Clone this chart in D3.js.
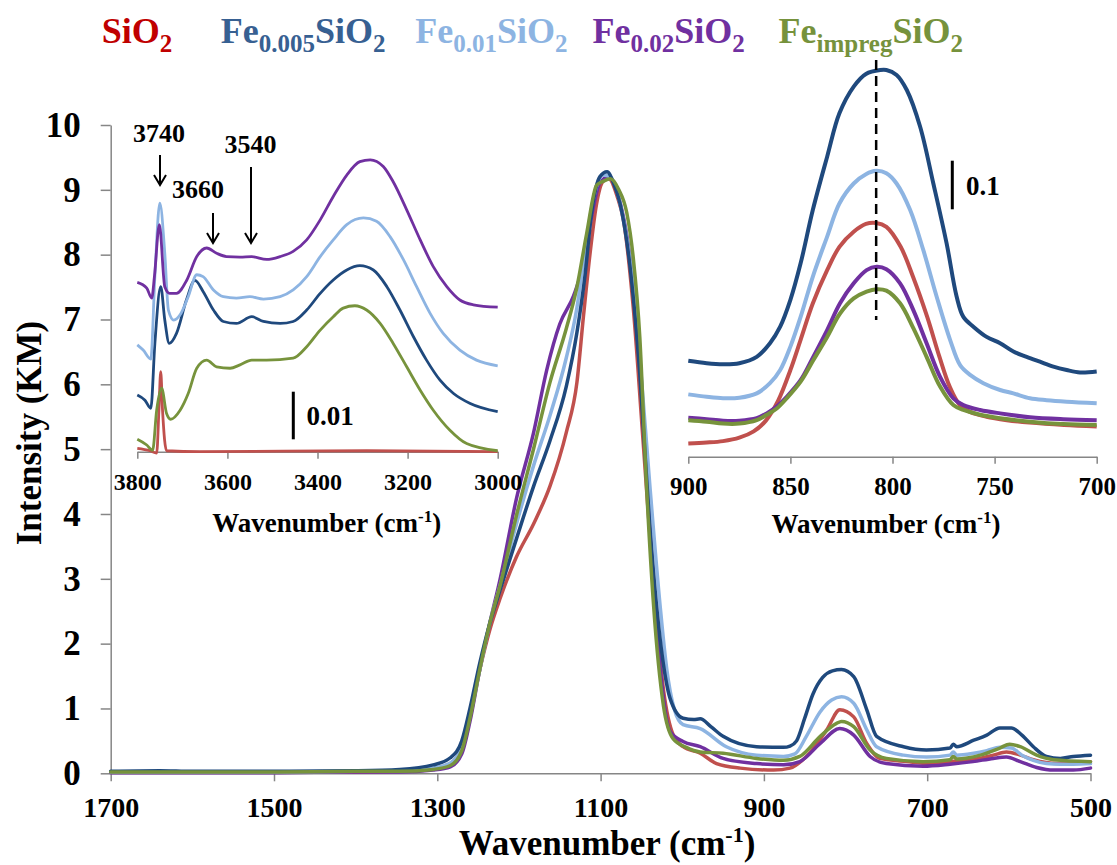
<!DOCTYPE html>
<html><head><meta charset="utf-8">
<script src="https://cdn.jsdelivr.net/npm/d3@7"></script>
<style>
body{margin:0;background:#fff}
svg{display:block}
</style>
</head><body>
<svg id="c" width="1117" height="865"></svg>
<script>
// ---------- DATA ----------
const seriesNames = ["SiO2","Fe0.005SiO2","Fe0.01SiO2","Fe0.02SiO2","FeimpregSiO2"];
const lineColors  = ["#C0504D","#1F497D","#8DB4E2","#7030A0","#77933C"];
const legendColors= ["#C00000","#376092","#8DB4E2","#7030A0","#76923C"];

const mainXTicks = [1700,1500,1300,1100,900,700,500];
const mainYTicks = [0,1,2,3,4,5,6,7,8,9,10];
const insetLTicks = [3800,3600,3400,3200,3000];
const insetRTicks = [900,850,800,750,700];

// main spectra [wavenumber, KM]
const mainSiO2 = [[1700,0.02],[1600,0.02],[1500,0.02],[1400,0.02],[1346,0.03],[1305,0.07],[1284,0.15],[1270,0.4],[1260,0.9],[1248,1.6],[1236,2.2],[1223,2.7],[1203,3.34],[1182,3.85],[1162,4.43],[1142,5.26],[1129,6.03],[1121,7.05],[1113,8.01],[1105,8.78],[1097,9.13],[1090,9.17],[1080,8.91],[1072,8.53],[1060,7.18],[1048,5.13],[1035,2.89],[1023,1.29],[1011,0.59],[999,0.41],[978,0.31],[958,0.15],[929,0.08],[888,0.05],[868,0.08],[848,0.26],[823,0.67],[807,0.98],[790,0.87],[774,0.46],[758,0.23],[725,0.18],[697,0.15],[672,0.18],[644,0.21],[619,0.28],[603,0.33],[586,0.28],[570,0.21],[541,0.15],[500,0.18]];
const mainFe005 = [[1700,0.03],[1640,0.04],[1600,0.03],[1500,0.03],[1400,0.04],[1346,0.06],[1305,0.13],[1284,0.24],[1270,0.5],[1260,1.0],[1248,1.7],[1236,2.3],[1223,2.83],[1203,3.62],[1182,4.43],[1162,5.13],[1142,5.97],[1129,6.8],[1119,7.69],[1111,8.65],[1101,9.2],[1092,9.28],[1084,9.1],[1076,8.78],[1064,7.82],[1052,6.16],[1040,3.85],[1027,2.06],[1015,1.16],[999,0.85],[986,0.83],[978,0.84],[965,0.72],[950,0.57],[909,0.41],[876,0.4],[868,0.42],[860,0.5],[850,0.85],[840,1.22],[828,1.48],[816,1.58],[805,1.6],[790,1.49],[774,0.98],[762,0.57],[729,0.41],[701,0.36],[672,0.39],[668,0.45],[664,0.41],[643,0.51],[627,0.59],[611,0.7],[597,0.7],[584,0.59],[570,0.41],[554,0.26],[537,0.23],[521,0.26],[500,0.28]];
const mainFe01 = [[1700,0.02],[1500,0.02],[1400,0.03],[1346,0.04],[1305,0.08],[1284,0.16],[1270,0.4],[1260,0.9],[1248,1.6],[1236,2.3],[1223,2.9],[1203,3.85],[1182,4.75],[1162,5.52],[1142,6.41],[1129,7.18],[1121,7.89],[1109,8.85],[1097,9.23],[1088,9.2],[1076,8.78],[1060,7.5],[1052,6.41],[1040,4.49],[1027,2.57],[1019,1.61],[1010,1.0],[999,0.75],[978,0.69],[946,0.41],[909,0.28],[876,0.26],[862,0.3],[848,0.57],[831,0.95],[817,1.13],[805,1.18],[790,1.08],[774,0.67],[762,0.41],[729,0.28],[701,0.25],[672,0.28],[668,0.33],[664,0.28],[643,0.31],[627,0.35],[611,0.4],[597,0.39],[584,0.28],[570,0.2],[554,0.15],[537,0.14],[521,0.14],[500,0.15]];
const mainFe02 = [[1700,0.01],[1500,0.01],[1400,0.02],[1346,0.02],[1305,0.05],[1284,0.1],[1270,0.3],[1260,0.8],[1248,1.6],[1236,2.3],[1223,3.0],[1203,4.24],[1182,5.26],[1166,6.22],[1150,6.93],[1133,7.37],[1123,7.76],[1113,8.46],[1101,9.1],[1090,9.2],[1080,8.97],[1064,7.95],[1052,6.41],[1040,3.85],[1027,1.61],[1015,0.65],[999,0.49],[978,0.41],[950,0.23],[909,0.15],[876,0.13],[856,0.18],[831,0.46],[807,0.69],[790,0.59],[770,0.26],[750,0.15],[705,0.11],[672,0.14],[644,0.18],[619,0.23],[603,0.25],[586,0.18],[566,0.09],[545,0.05],[521,0.05],[500,0.08]];
const mainFeImp = [[1700,0.02],[1500,0.02],[1400,0.03],[1346,0.03],[1305,0.06],[1284,0.12],[1270,0.35],[1260,0.85],[1248,1.6],[1236,2.3],[1223,2.9],[1203,3.98],[1182,5.01],[1162,6.03],[1142,6.86],[1129,7.5],[1117,8.33],[1105,9.07],[1097,9.13],[1088,9.17],[1078,9.01],[1068,8.65],[1060,7.95],[1052,6.73],[1044,4.49],[1035,2.57],[1023,1.04],[1011,0.53],[995,0.4],[978,0.33],[950,0.31],[909,0.23],[876,0.2],[856,0.26],[831,0.57],[811,0.77],[805,0.8],[790,0.72],[770,0.36],[750,0.23],[705,0.18],[672,0.21],[668,0.26],[664,0.22],[635,0.28],[611,0.39],[599,0.45],[586,0.41],[566,0.28],[545,0.21],[500,0.18]];

// OH-region inset (offset spectra)
const ohSiO2 = [[3800,0.0007],[3772,0.0002],[3757,-0.0003],[3752,0.0087],[3748,0.0168],[3744,0.0087],[3735,0.0002],[3661,0.0],[3291,0.0002],[3000,0.0]];
const ohFe005 = [[3800,0.0119],[3783,0.0108],[3770,0.0091],[3761,0.0227],[3748,0.0346],[3739,0.0276],[3729,0.0227],[3713,0.0248],[3691,0.0318],[3672,0.0359],[3654,0.0336],[3631,0.0297],[3609,0.0273],[3580,0.0269],[3546,0.0283],[3520,0.0273],[3483,0.0269],[3454,0.0273],[3424,0.0297],[3394,0.0332],[3365,0.036],[3335,0.0381],[3306,0.039],[3276,0.0381],[3246,0.0346],[3217,0.0297],[3187,0.0241],[3158,0.0192],[3128,0.015],[3098,0.0122],[3061,0.0101],[3000,0.0084]];
const ohFe01 = [[3800,0.0224],[3787,0.0213],[3770,0.0194],[3761,0.0367],[3750,0.0521],[3739,0.0416],[3731,0.0297],[3719,0.0276],[3705,0.0287],[3687,0.0325],[3668,0.0371],[3654,0.0367],[3631,0.0339],[3609,0.0325],[3580,0.0322],[3550,0.0325],[3520,0.032],[3483,0.0325],[3454,0.0339],[3424,0.0367],[3394,0.0409],[3365,0.0444],[3335,0.0476],[3298,0.049],[3269,0.0483],[3239,0.0451],[3209,0.0402],[3180,0.0346],[3150,0.029],[3121,0.0248],[3084,0.0213],[3047,0.0192],[3000,0.018]];
const ohFe02 = [[3800,0.0355],[3779,0.0343],[3768,0.0322],[3762,0.0367],[3751,0.0476],[3739,0.0346],[3728,0.0332],[3713,0.0332],[3690,0.036],[3668,0.0409],[3646,0.0427],[3624,0.0416],[3602,0.0409],[3572,0.0408],[3546,0.0409],[3513,0.0403],[3483,0.0409],[3454,0.042],[3424,0.0444],[3394,0.0486],[3365,0.0535],[3335,0.058],[3306,0.0608],[3283,0.0612],[3254,0.0598],[3232,0.0566],[3202,0.0507],[3172,0.0444],[3143,0.0388],[3113,0.0346],[3084,0.0318],[3054,0.0308],[3000,0.0303]];
const ohFeImp = [[3800,0.0026],[3779,0.0014],[3766,0.0003],[3757,0.0087],[3746,0.0133],[3735,0.008],[3726,0.0068],[3705,0.0087],[3687,0.0122],[3668,0.0175],[3646,0.0192],[3624,0.0178],[3594,0.0175],[3572,0.0182],[3546,0.0192],[3513,0.0192],[3454,0.0196],[3424,0.022],[3394,0.0255],[3365,0.0283],[3343,0.0301],[3317,0.0306],[3291,0.0297],[3261,0.0269],[3232,0.0227],[3202,0.0178],[3172,0.0129],[3143,0.0087],[3106,0.0045],[3069,0.0017],[3000,0.0002]];

// 800 cm-1 band inset (offset spectra)
const bandSiO2 = [[900,0.027],[891,0.029],[883,0.032],[875,0.039],[868,0.052],[862,0.074],[856,0.115],[850,0.178],[845,0.24],[839,0.315],[832,0.383],[826,0.431],[819,0.462],[813,0.478],[808,0.48],[803,0.472],[796,0.431],[790,0.37],[783,0.287],[777,0.205],[772,0.144],[767,0.106],[762,0.092],[754,0.082],[744,0.075],[733,0.07],[716,0.065],[700,0.062]];
const bandFe005 = [[900,0.197],[891,0.192],[883,0.19],[875,0.192],[866.5,0.205],[860,0.233],[855,0.267],[850,0.322],[845,0.397],[839,0.507],[832,0.616],[826,0.705],[819,0.76],[813,0.786],[806,0.794],[803,0.794],[798,0.784],[793,0.753],[786.5,0.678],[780,0.561],[773.5,0.438],[768.6,0.329],[765.3,0.287],[760.4,0.267],[753.9,0.246],[747.3,0.233],[740.8,0.216],[734.3,0.205],[727.8,0.195],[721.2,0.185],[714.7,0.178],[708.2,0.173],[700,0.175]];
const bandFe01 = [[900,0.128],[891,0.123],[883,0.12],[875,0.121],[866.5,0.13],[860,0.151],[855,0.178],[850,0.226],[845,0.287],[839,0.37],[832,0.452],[826,0.52],[819,0.561],[813,0.58],[808,0.587],[803,0.582],[798,0.561],[791.4,0.507],[784.9,0.424],[778.4,0.329],[771.8,0.24],[766.9,0.188],[762,0.168],[755.5,0.151],[747.3,0.137],[740.8,0.13],[732.7,0.12],[724.5,0.116],[714.7,0.113],[700,0.11]];
const bandFe02 = [[900,0.08],[891,0.077],[883,0.074],[875,0.074],[866.5,0.079],[861.6,0.089],[856.7,0.103],[851.8,0.123],[845,0.157],[838.8,0.205],[832,0.26],[825.7,0.315],[819,0.356],[812.7,0.383],[807.8,0.39],[803,0.385],[796.3,0.356],[789.8,0.301],[783.3,0.233],[776.7,0.164],[770.2,0.12],[765.3,0.106],[757.1,0.096],[747.3,0.089],[732.7,0.081],[716.4,0.077],[700,0.075]];
const bandFeImp = [[900,0.075],[891,0.072],[883,0.068],[875,0.068],[866.5,0.075],[861.6,0.086],[856.7,0.099],[851.8,0.12],[845,0.154],[838.8,0.198],[832,0.246],[825.7,0.294],[819,0.325],[812.7,0.339],[807.8,0.344],[803,0.341],[796.3,0.315],[789.8,0.264],[783.3,0.205],[776.7,0.144],[770.2,0.106],[765.3,0.096],[757.1,0.086],[747.3,0.079],[732.7,0.072],[716.4,0.067],[700,0.065]];
const bandCenter = 808;

const mainSeries = [mainSiO2, mainFe005, mainFe01, mainFe02, mainFeImp];
const ohSeries   = [ohSiO2, ohFe005, ohFe01, ohFe02, ohFeImp];
const bandSeries = [bandSiO2, bandFe005, bandFe01, bandFe02, bandFeImp];

// ---------- font selection (pick an installed serif if any) ----------
function pickFont(){
  const cands = ["Liberation Serif","DejaVu Serif","Tinos","Times New Roman","Noto Serif","FreeSerif","Nimbus Roman","Nimbus Roman No9 L","Times"];
  const c = document.createElement("canvas").getContext("2d");
  const s = "Wavenumber 0123456789 (KM)";
  const base = {};
  ["monospace","sans-serif"].forEach(b=>{ c.font = "bold 40px " + b; base[b] = c.measureText(s).width; });
  for (const f of cands){
    let found = false;
    ["monospace","sans-serif"].forEach(b=>{ c.font = `bold 40px "${f}", ${b}`; if (Math.abs(c.measureText(s).width - base[b]) > 0.5) found = true; });
    if (found) return `"${f}", serif`;
  }
  return '"Liberation Sans", Arial, sans-serif';
}
const FONT = pickFont();

// ---------- DRAW ----------
const svg = d3.select("#c");
const axisGray = "#868686";

function styleAxis(g, fs){
  g.attr("font-family", null).attr("font-size", null);
  g.selectAll(".domain").attr("stroke", axisGray).attr("stroke-width", 1.5);
  g.selectAll(".tick line").attr("stroke", axisGray).attr("stroke-width", 1.5);
  g.selectAll(".tick text").attr("fill","#000").style("font-size", fs+"px")
    .style("font-family", FONT).style("font-weight","bold");
}

// main scales
const xM = d3.scaleLinear().domain([1700,500]).range([110.7,1090.5]);
const yM = d3.scaleLinear().domain([0,10]).range([773.3,125]);

const gy = svg.append("g").attr("transform","translate(110.7,0)")
  .call(d3.axisLeft(yM).tickValues(mainYTicks).tickSize(10).tickSizeOuter(0).tickPadding(20));
styleAxis(gy, 35);
const gx = svg.append("g").attr("transform","translate(0,773.3)")
  .call(d3.axisBottom(xM).tickValues(mainXTicks).tickSize(8).tickSizeOuter(0).tickPadding(15.5).tickFormat(d3.format("d")));
styleAxis(gx, 28);

const lineM = d3.line().x(d=>xM(d[0])).y(d=>yM(d[1])).curve(d3.curveMonotoneX);
const order = [0,3,2,1,4];
order.forEach(i=>{
  svg.append("path").datum(mainSeries[i]).attr("d", lineM)
    .attr("fill","none").attr("stroke", lineColors[i]).attr("stroke-width",3.5)
    .attr("stroke-linejoin","round").attr("stroke-linecap","round");
});

function txt(sel){ return sel.style("font-family", FONT).style("font-weight","bold"); }

// main titles
const xt = txt(svg.append("text")).attr("x",607).attr("y",855).attr("text-anchor","middle").style("font-size","35px");
xt.append("tspan").text("Wavenumber (cm");
xt.append("tspan").attr("dy",-13).style("font-size","22px").text("-1");
xt.append("tspan").attr("dy",13).text(")");

txt(svg.append("text")).attr("transform","translate(41,433) rotate(-90)").attr("text-anchor","middle")
  .style("font-size","35px").text("Intensity (KM)");

// legend
const legendParts = [
  [["SiO",0],["2",1]],
  [["Fe",0],["0.005",1],["SiO",0],["2",1]],
  [["Fe",0],["0.01",1],["SiO",0],["2",1]],
  [["Fe",0],["0.02",1],["SiO",0],["2",1]],
  [["Fe",0],["impreg",1],["SiO",0],["2",1]]
];
const legendX = [101.7,220.7,415.2,592.6,778.5];
legendParts.forEach((parts,i)=>{
  const t = txt(svg.append("text")).attr("x",legendX[i]).attr("y",43.3).attr("fill",legendColors[i]).style("font-size","36px");
  let sub = 0;
  parts.forEach(([s,isSub])=>{
    const dy = (isSub?9:0) - (sub?9:0);
    t.append("tspan").attr("dy",dy).style("font-size", isSub?"25px":"36px").text(s);
    sub = isSub;
  });
});

// ---------- left inset (OH region) ----------
const xL = d3.scaleLinear().domain([3800,3000]).range([137.3,497.7]);
const yL = d3.scaleLinear().domain([0,0.065]).range([451.7,451.7-0.065*4770]);
const gL = svg.append("g").attr("transform","translate(0,451.7)")
  .call(d3.axisBottom(xL).tickValues(insetLTicks).tickSize(7).tickSizeOuter(0).tickPadding(14.3).tickFormat(d3.format("d")));
styleAxis(gL, 24);
const lineL = d3.line().x(d=>xL(d[0])).y(d=>yL(d[1])).curve(d3.curveMonotoneX);
[0,4,1,2,3].forEach(i=>{
  svg.append("path").datum(ohSeries[i]).attr("d", lineL)
    .attr("fill","none").attr("stroke", lineColors[i]).attr("stroke-width",2.8)
    .attr("stroke-linejoin","round");
});
const tL = txt(svg.append("text")).attr("x",326.7).attr("y",532).attr("text-anchor","middle").style("font-size","27px");
tL.append("tspan").text("Wavenumber (cm");
tL.append("tspan").attr("dy",-10).style("font-size","17px").text("-1");
tL.append("tspan").attr("dy",10).text(")");

// annotations
function arrow(x, y1, y2){
  svg.append("line").attr("x1",x).attr("x2",x).attr("y1",y1).attr("y2",y2).attr("stroke","#000").attr("stroke-width",2);
  svg.append("path").attr("d",`M${x-6},${y2-10}L${x},${y2}L${x+6},${y2-10}`).attr("fill","none").attr("stroke","#000").attr("stroke-width",2);
}
const annLabels = ["3740","3660","3540"];
const annPos = [[159,141.7,160,155,185],[198,198.3,213,213,243],[250.5,153.3,251,167,243]];
annLabels.forEach((s,i)=>{
  const [x,ty,ax,a1,a2] = annPos[i];
  txt(svg.append("text")).attr("x",x).attr("y",ty).attr("text-anchor","middle").style("font-size","26px").text(s);
  arrow(ax, a1, a2);
});
svg.append("line").attr("x1",293.3).attr("x2",293.3).attr("y1",391.7).attr("y2",439.3).attr("stroke","#000").attr("stroke-width",3);
txt(svg.append("text")).attr("x",306.5).attr("y",425).style("font-size","27px").text("0.01");

// ---------- right inset (800 band) ----------
const xR = d3.scaleLinear().domain([900,700]).range([688.3,1096.7]);
const yR = d3.scaleLinear().domain([0,0.82]).range([456.7,456.7-0.82*487]);
const gR = svg.append("g").attr("transform","translate(0,456.7)")
  .call(d3.axisBottom(xR).tickValues(insetRTicks).tickSize(7).tickSizeOuter(0).tickPadding(13.5).tickFormat(d3.format("d")));
styleAxis(gR, 25);
const lineR = d3.line().x(d=>xR(d[0])).y(d=>yR(d[1])).curve(d3.curveCatmullRom.alpha(0.5));
[0,1,2,3,4].forEach(i=>{
  svg.append("path").datum(bandSeries[i]).attr("d", lineR)
    .attr("fill","none").attr("stroke", lineColors[i]).attr("stroke-width",4)
    .attr("stroke-linejoin","round");
});
svg.append("line").attr("x1",xR(bandCenter)).attr("x2",xR(bandCenter)).attr("y1",60).attr("y2",320)
  .attr("stroke","#000").attr("stroke-width",2.5).attr("stroke-dasharray","10,6");
svg.append("line").attr("x1",952.3).attr("x2",952.3).attr("y1",160.7).attr("y2",209.3).attr("stroke","#000").attr("stroke-width",3);
txt(svg.append("text")).attr("x",966).attr("y",195).style("font-size","27px").text("0.1");
const tR = txt(svg.append("text")).attr("x",886).attr("y",533).attr("text-anchor","middle").style("font-size","27px");
tR.append("tspan").text("Wavenumber (cm");
tR.append("tspan").attr("dy",-10).style("font-size","17px").text("-1");
tR.append("tspan").attr("dy",10).text(")");
</script>
</body></html>
